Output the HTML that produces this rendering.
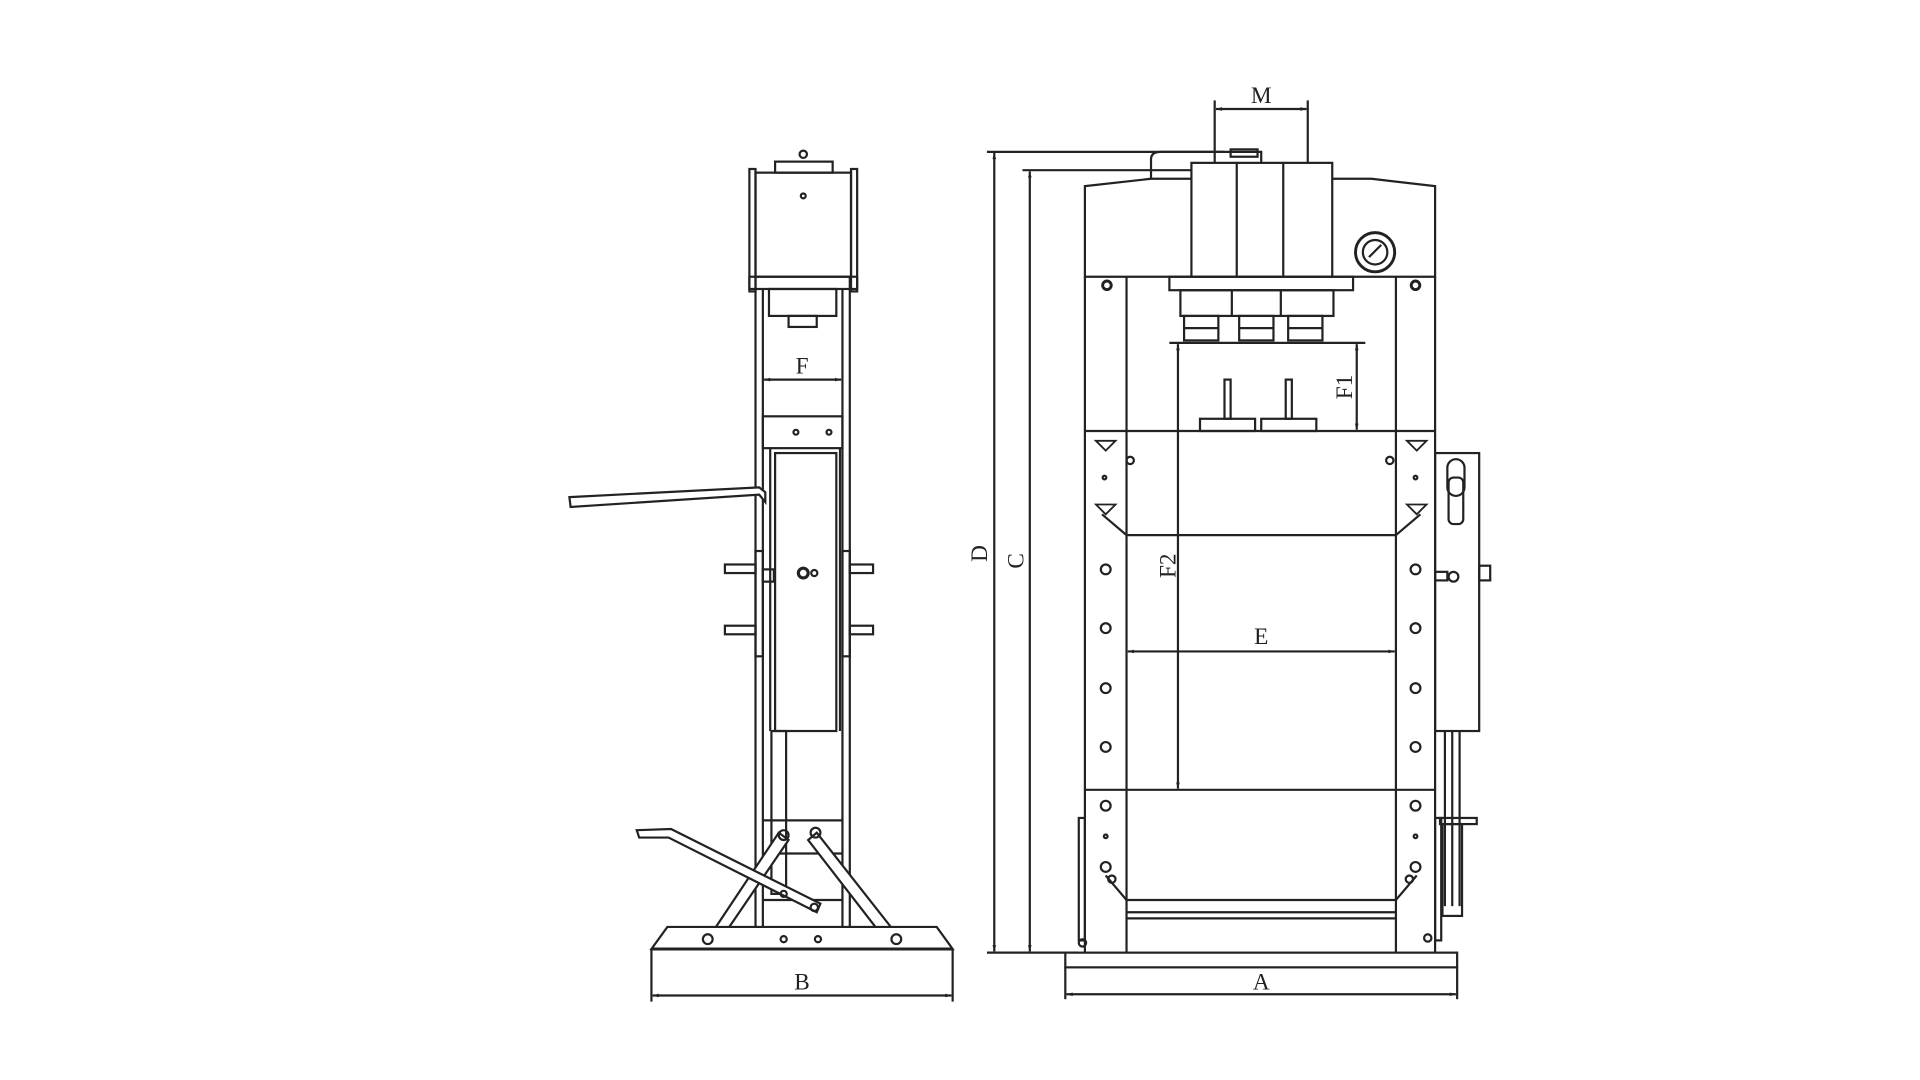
<!DOCTYPE html>
<html><head><meta charset="utf-8"><style>html,body{margin:0;padding:0;background:#fff;overflow:hidden}svg{display:block}</style></head>
<body>
<svg width="1920" height="1080" viewBox="0 0 1568 882" preserveAspectRatio="none" xmlns="http://www.w3.org/2000/svg">
<defs>
<marker id="ar" viewBox="0 0 10 10" refX="10" refY="5" markerWidth="9" markerHeight="5" orient="auto-start-reverse" markerUnits="userSpaceOnUse"><path d="M0,2 L10,5 L0,8z" fill="#222"/></marker>
</defs>
<g fill="none" stroke="#222" stroke-width="1.8">
<!-- ===== LEFT SIDE VIEW ===== -->
<rect x="633" y="132" width="47" height="9" fill="#fff"/>
<circle cx="656" cy="126" r="3"/>
<rect x="617" y="141" width="78" height="85"/>
<rect x="612" y="138" width="5" height="100"/><rect x="695" y="138" width="5" height="100"/>
<circle cx="656" cy="160" r="2"/>
<rect x="612" y="226" width="88" height="10"/>
<rect x="628" y="236" width="55" height="22"/>
<rect x="644" y="258" width="23" height="9"/>
<line x1="617" y1="226" x2="617" y2="757"/><line x1="623" y1="236" x2="623" y2="757"/>
<line x1="688" y1="236" x2="688" y2="757"/><line x1="694" y1="226" x2="694" y2="757"/>
<rect x="623" y="340" width="65" height="26"/>
<circle cx="650" cy="353" r="2"/><circle cx="677" cy="353" r="2"/>
<line x1="629" y1="366" x2="629" y2="597"/><line x1="686" y1="366" x2="686" y2="597"/>
<rect x="633" y="370" width="50" height="227" fill="#fff"/>
<circle cx="656" cy="468" r="4" stroke-width="2.6"/><circle cx="665" cy="468" r="2.5"/>
<path d="M465,406 L620,398 L625,402 L625,410 L620,404 L466,414 Z" fill="#fff"/>
<rect x="617" y="450" width="6" height="86"/><rect x="688" y="450" width="6" height="86"/>
<rect x="592" y="461" width="25" height="7"/><rect x="592" y="511" width="25" height="7"/>
<rect x="694" y="461" width="19" height="7"/><rect x="694" y="511" width="19" height="7"/>
<rect x="623" y="465" width="9" height="10"/>
<rect x="630" y="597" width="12" height="133"/>
<line x1="623" y1="670" x2="688" y2="670"/><line x1="623" y1="697" x2="688" y2="697"/>
<line x1="623" y1="735" x2="688" y2="735"/>
<path d="M576,770 L636,680 L644,686 L584,774Z" fill="#fff"/>
<path d="M667,680 L733,764 L725,770 L660,686Z" fill="#fff"/>
<circle cx="640" cy="682" r="4"/><circle cx="666" cy="680" r="4"/>
<path d="M520,678 L548,677 L670,738 L667,745 L546,684 L522,684Z" fill="#fff"/>
<circle cx="665" cy="741" r="3"/><circle cx="640" cy="730" r="2.5"/>
<path d="M532,775 L545,757 L765,757 L778,775Z" fill="#fff"/>
<line x1="532" y1="775" x2="778" y2="775" stroke-width="2.4"/>
<circle cx="578" cy="767" r="4"/><circle cx="732" cy="767" r="4"/>
<circle cx="640" cy="767" r="2.5"/><circle cx="668" cy="767" r="2.5"/>
<line x1="532" y1="775" x2="532" y2="818"/><line x1="778" y1="775" x2="778" y2="818"/>
<line x1="533" y1="813" x2="777" y2="813" marker-start="url(#ar)" marker-end="url(#ar)"/>
<line x1="624" y1="310" x2="687" y2="310" marker-start="url(#ar)" marker-end="url(#ar)"/>

<!-- ===== RIGHT FRONT VIEW ===== -->
<line x1="806" y1="124" x2="1000" y2="124"/><line x1="835" y1="139" x2="990" y2="139"/>
<line x1="806" y1="778" x2="880" y2="778"/>
<line x1="812" y1="125" x2="812" y2="777" marker-start="url(#ar)" marker-end="url(#ar)"/>
<line x1="841" y1="140" x2="841" y2="777" marker-start="url(#ar)" marker-end="url(#ar)"/>
<line x1="992" y1="82" x2="992" y2="133"/><line x1="1068" y1="82" x2="1068" y2="133"/>
<line x1="993" y1="89" x2="1067" y2="89" marker-start="url(#ar)" marker-end="url(#ar)"/>
<path d="M940,146 L940,130 Q940,124 948,124 L1030,124 L1030,133"/>
<rect x="1005" y="122" width="22" height="6"/>
<path d="M886,226 L886,152 L940,146 L1120,146 L1172,152 L1172,226 Z" fill="#fff"/>
<rect x="973" y="133" width="115" height="93" fill="#fff"/>
<line x1="1010" y1="133" x2="1010" y2="226"/><line x1="1048" y1="133" x2="1048" y2="226"/>
<circle cx="1123" cy="206" r="16" stroke-width="2.4"/><circle cx="1123" cy="206" r="10"/><line x1="1118" y1="210" x2="1128" y2="200"/>
<line x1="886" y1="226" x2="886" y2="778"/><line x1="920" y1="226" x2="920" y2="778"/>
<line x1="1140" y1="226" x2="1140" y2="778"/><line x1="1172" y1="226" x2="1172" y2="778"/>
<circle cx="904" cy="233" r="3.5" stroke-width="2.4"/><circle cx="1156" cy="233" r="3.5" stroke-width="2.4"/>
<rect x="955" y="226" width="150" height="11"/>
<rect x="964" y="237" width="125" height="21"/>
<line x1="1006" y1="237" x2="1006" y2="258"/><line x1="1046" y1="237" x2="1046" y2="258"/>
<rect x="967" y="258" width="28" height="20"/><rect x="1012" y="258" width="28" height="20"/><rect x="1052" y="258" width="28" height="20"/>
<line x1="967" y1="268" x2="995" y2="268"/><line x1="1012" y1="268" x2="1040" y2="268"/><line x1="1052" y1="268" x2="1080" y2="268"/>
<line x1="955" y1="280" x2="1115" y2="280"/>
<line x1="1108" y1="281" x2="1108" y2="351" marker-start="url(#ar)" marker-end="url(#ar)"/>
<line x1="962" y1="281" x2="962" y2="644" marker-start="url(#ar)" marker-end="url(#ar)"/>
<rect x="1000" y="310" width="5" height="32"/><rect x="1050" y="310" width="5" height="32"/>
<rect x="980" y="342" width="45" height="10"/><rect x="1030" y="342" width="45" height="10"/>
<line x1="886" y1="352" x2="1172" y2="352"/>
<path d="M900,420 L920,437 L1140,437 L1160,420"/>
<path d="M895,360 L903,368 L911,360 Z M895,412 L903,420 L911,412 Z M1149,360 L1157,368 L1165,360 Z M1149,412 L1157,420 L1165,412 Z" stroke-width="1.5"/>
<circle cx="923" cy="376" r="3"/><circle cx="1135" cy="376" r="3"/>
<circle cx="902" cy="390" r="1.5"/><circle cx="1156" cy="390" r="1.5"/>
<line x1="921" y1="532" x2="1139" y2="532" marker-start="url(#ar)" marker-end="url(#ar)"/>
<circle cx="903" cy="465" r="4"/><circle cx="903" cy="513" r="4"/><circle cx="903" cy="562" r="4"/><circle cx="903" cy="610" r="4"/><circle cx="903" cy="658" r="4"/><circle cx="903" cy="708" r="4"/>
<circle cx="1156" cy="465" r="4"/><circle cx="1156" cy="513" r="4"/><circle cx="1156" cy="562" r="4"/><circle cx="1156" cy="610" r="4"/><circle cx="1156" cy="658" r="4"/><circle cx="1156" cy="708" r="4"/>
<circle cx="903" cy="683" r="1.5"/><circle cx="1156" cy="683" r="1.5"/>
<circle cx="908" cy="718" r="3"/><circle cx="1151" cy="718" r="3"/>
<line x1="886" y1="645" x2="1172" y2="645"/>
<path d="M903,715 L920,735 L1140,735 L1157,715"/>
<line x1="920" y1="745" x2="1140" y2="745"/>
<line x1="920" y1="750" x2="1140" y2="750"/>
<rect x="881" y="668" width="5" height="100"/><rect x="1172" y="668" width="5" height="100"/>
<circle cx="884" cy="770" r="3"/><circle cx="1166" cy="766" r="3"/>
<rect x="1172" y="370" width="36" height="227"/>
<rect x="1182" y="375" width="14" height="30" rx="7"/>
<rect x="1183" y="390" width="12" height="38" rx="4"/>
<circle cx="1187" cy="471" r="4"/><rect x="1172" y="467" width="10" height="7"/>
<rect x="1208" y="462" width="9" height="12"/>
<line x1="1180" y1="597" x2="1180" y2="740"/><line x1="1186" y1="597" x2="1186" y2="740"/><line x1="1192" y1="597" x2="1192" y2="740"/>
<rect x="1176" y="668" width="30" height="5"/>
<rect x="1178" y="673" width="16" height="75"/>
<rect x="870" y="778" width="320" height="12" fill="#fff"/>
<line x1="870" y1="790" x2="870" y2="816"/><line x1="1190" y1="790" x2="1190" y2="816"/>
<line x1="871" y1="812" x2="1189" y2="812" marker-start="url(#ar)" marker-end="url(#ar)"/>
</g>
<g font-family="Liberation Serif, serif" font-size="19" fill="#222" text-anchor="middle">
<text x="655" y="305">F</text>
<text x="655" y="808">B</text>
<text x="1030" y="84">M</text>
<text x="1030" y="526">E</text>
<text x="1030" y="808">A</text>
<text transform="translate(806,452) rotate(-90)">D</text>
<text transform="translate(836,458) rotate(-90)">C</text>
<text transform="translate(1104,316) rotate(-90)">F1</text>
<text transform="translate(960,462) rotate(-90)">F2</text>
</g>
</svg>
</body></html>
